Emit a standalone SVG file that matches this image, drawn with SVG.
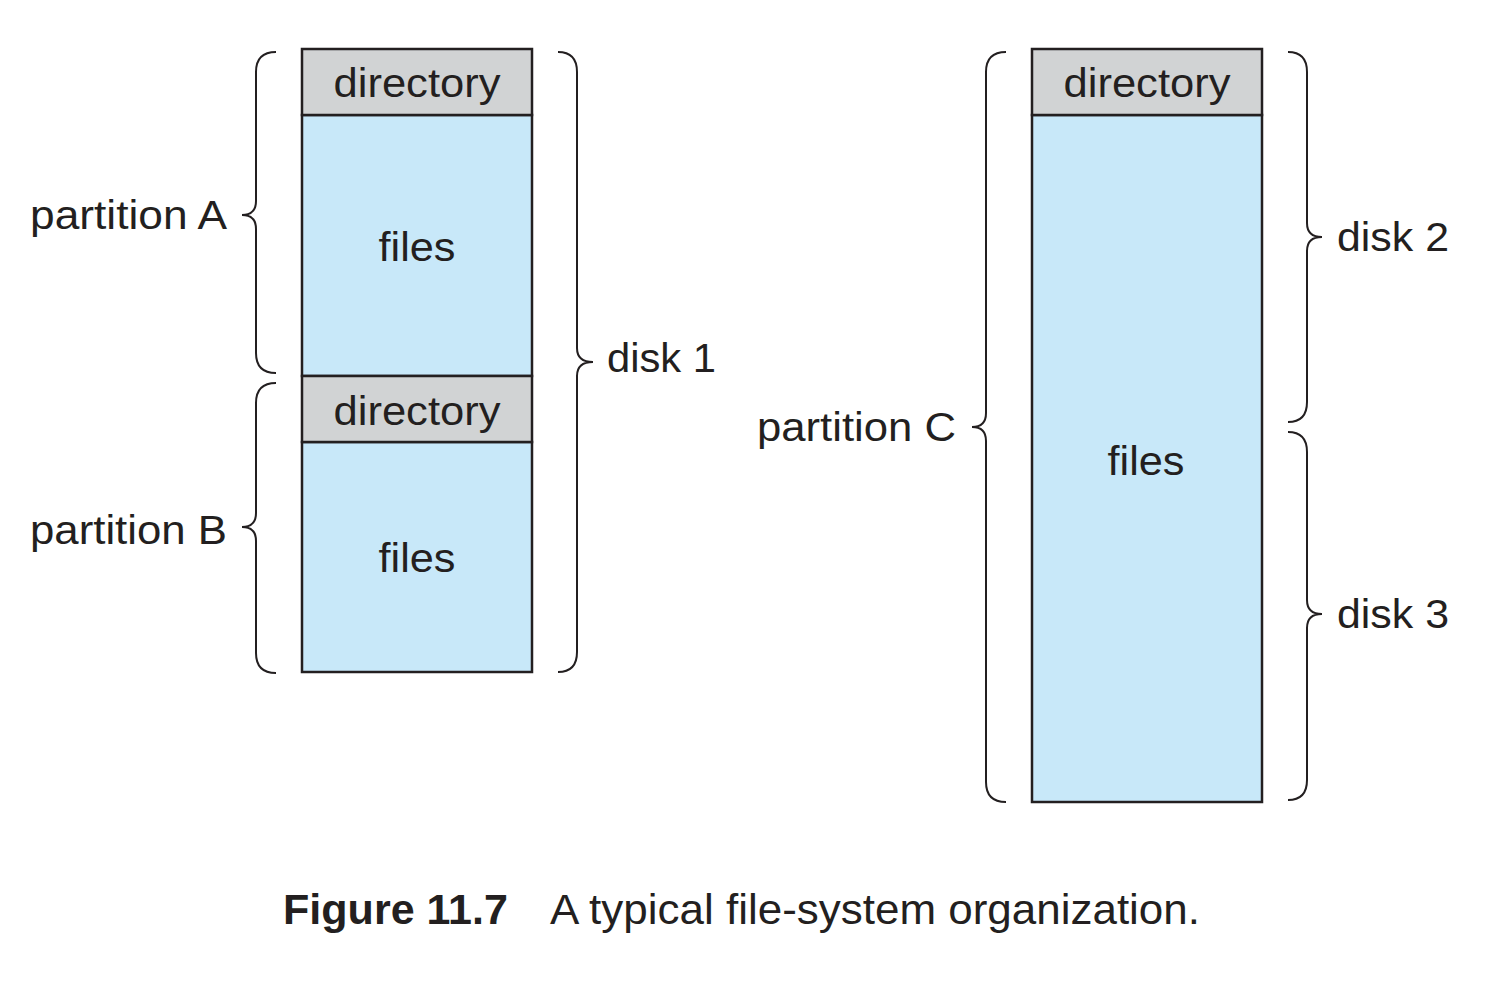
<svg xmlns="http://www.w3.org/2000/svg" width="1492" height="988" viewBox="0 0 1492 988">
<style>
.dir{fill:#d1d3d4;stroke:#231f20;stroke-width:2.5}
.fil{fill:#c8e8f9;stroke:#231f20;stroke-width:2.5}
.brace{fill:none;stroke:#231f20;stroke-width:2}
text{font-family:"Liberation Sans",Arial,sans-serif;fill:#231f20;font-size:40px}
.c{text-anchor:middle}
.cap{font-size:43px}
.b{font-weight:bold}
</style>
<rect width="1492" height="988" fill="#ffffff"/>
<g id="diskA">
<rect class="fil" x="302" y="115" width="230" height="261"/>
<rect class="dir" x="302" y="49" width="230" height="66"/>
<text class="c" x="417" y="97" textLength="167" lengthAdjust="spacingAndGlyphs">directory</text>
<text class="c" x="417" y="261" textLength="77" lengthAdjust="spacingAndGlyphs">files</text>
</g>
<g id="diskB">
<rect class="fil" x="302" y="442" width="230" height="230"/>
<rect class="dir" x="302" y="376" width="230" height="66"/>
<text class="c" x="417" y="425" textLength="167" lengthAdjust="spacingAndGlyphs">directory</text>
<text class="c" x="417" y="572" textLength="77" lengthAdjust="spacingAndGlyphs">files</text>
</g>
<g id="diskC">
<rect class="fil" x="1032" y="115" width="230" height="687"/>
<rect class="dir" x="1032" y="49" width="230" height="66"/>
<text class="c" x="1147" y="97" textLength="167" lengthAdjust="spacingAndGlyphs">directory</text>
<text class="c" x="1146" y="475" textLength="77" lengthAdjust="spacingAndGlyphs">files</text>
</g>
<g id="braces">
<path class="brace" d="M276 52 Q256 52 256 72 L256 201 Q256 215 242 215 Q256 215 256 229 L256 353 Q256 373 276 373"/>
<path class="brace" d="M276 383 Q256 383 256 403 L256 513 Q256 527 242 527 Q256 527 256 541 L256 653 Q256 673 276 673"/>
<path class="brace" d="M558 52 Q577 52 577 72 L577 348 Q577 362 593 362 Q577 362 577 376 L577 652 Q577 672 558 672"/>
<path class="brace" d="M1006 52 Q986 52 986 72 L986 413 Q986 427 972 427 Q986 427 986 441 L986 782 Q986 802 1006 802"/>
<path class="brace" d="M1288 52 Q1307 52 1307 72 L1307 223 Q1307 237 1322 237 Q1307 237 1307 251 L1307 402 Q1307 422 1288 422"/>
<path class="brace" d="M1288 432 Q1307 432 1307 452 L1307 600 Q1307 614 1322 614 Q1307 614 1307 628 L1307 780 Q1307 800 1288 800"/>
</g>
<g id="labels">
<text x="30" y="229" textLength="197" lengthAdjust="spacingAndGlyphs">partition A</text>
<text x="30" y="544" textLength="197" lengthAdjust="spacingAndGlyphs">partition B</text>
<text x="607" y="372" textLength="109" lengthAdjust="spacingAndGlyphs">disk 1</text>
<text x="757" y="441" textLength="199" lengthAdjust="spacingAndGlyphs">partition C</text>
<text x="1337" y="251" textLength="112" lengthAdjust="spacingAndGlyphs">disk 2</text>
<text x="1337" y="628" textLength="112" lengthAdjust="spacingAndGlyphs">disk 3</text>
</g>
<g id="caption">
<text class="cap b" x="283" y="924" textLength="225" lengthAdjust="spacingAndGlyphs">Figure 11.7</text>
<text class="cap" x="550" y="924" textLength="650" lengthAdjust="spacingAndGlyphs">A typical file-system organization.</text>
</g>
</svg>
